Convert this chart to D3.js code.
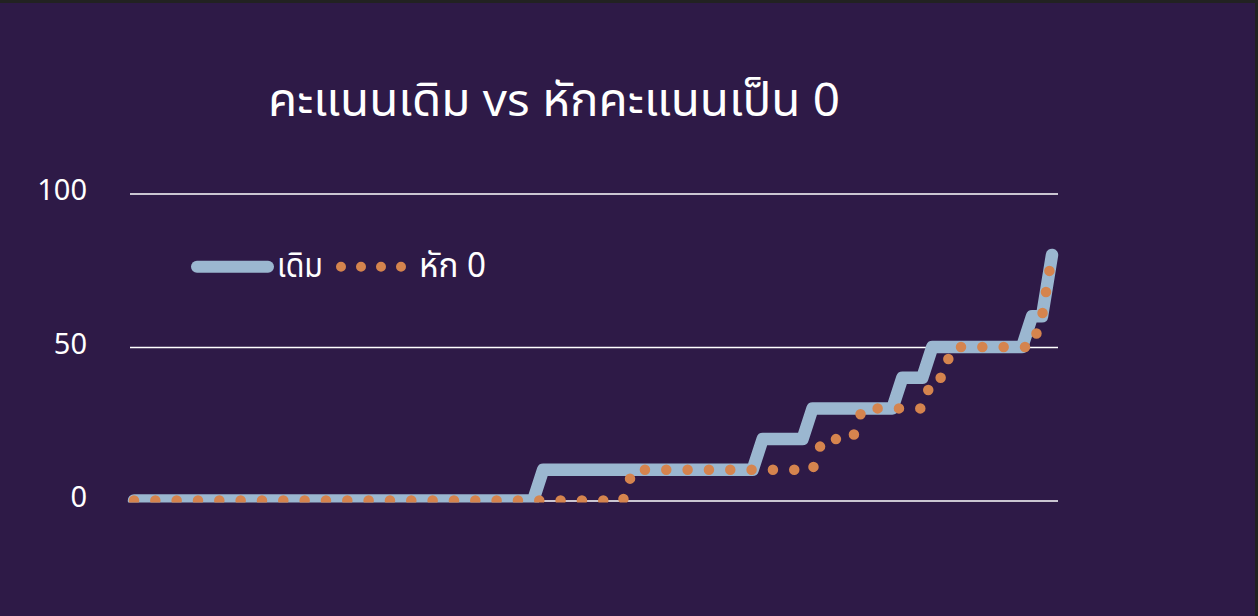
<!DOCTYPE html>
<html>
<head>
<meta charset="utf-8">
<script src="https://cdn.jsdelivr.net/npm/d3@7"></script>
<style>
  html, body { margin: 0; padding: 0; background: #222222; }
  svg { display: block; }
  text { font-family: "Noto Sans Thai", "Leelawadee UI", "Tahoma", "Noto Sans", "DejaVu Sans", sans-serif; fill: #ffffff; }
</style>
</head>
<body>
<svg id="chart" width="1258" height="616"></svg>
<script>
// ---- data ----
const title = "คะแนนเดิม vs หักคะแนนเป็น 0";
const seriesNames = ["เดิม", "หัก 0"];
const original = [
  0,0,0,0,0,0,0,0,0,0,
  0,0,0,0,0,0,0,0,0,0,
  0,0,0,0,0,0,0,0,0,0,
  0,0,0,0,0,0,0,0,0,0,
  0,10,10,10,10,10,10,10,10,10,
  10,10,10,10,10,10,10,10,10,10,
  10,10,10,20,20,20,20,20,30,30,
  30,30,30,30,30,30,30,40,40,40,
  50,50,50,50,50,50,50,50,50,50,
  60,60,80
];
const deducted = [
  0,0,0,0,0,0,0,0,0,0,
  0,0,0,0,0,0,0,0,0,0,
  0,0,0,0,0,0,0,0,0,0,
  0,0,0,0,0,0,0,0,0,0,
  0,0,0,0,0,0,0,0,0,0,
  10,10,10,10,10,10,10,10,10,10,
  10,10,10,10,10,10,10,10,10,20,
  20,20,20,30,30,30,30,30,30,30,
  40,40,50,50,50,50,50,50,50,50,
  50,60,80
];
const categories = original.map((d, i) => i + 1);
const yTicks = [0, 50, 100];

// ---- layout ----
const svg = d3.select("#chart");
const W = 1258, H = 616;
const bg = "#2e1a47";
const blue = "#9bb7d0";
const orange = "#d5844e";

svg.append("rect").attr("x", 0).attr("y", 3).attr("width", 1255).attr("height", H - 3).attr("fill", bg);

const x = d3.scalePoint().domain(categories).range([134, 1052]);
const y = d3.scaleLinear().domain([0, 100]).range([500.5, 193.5]);

// gridlines + tick labels via axis
const axis = d3.axisLeft(y).tickValues(yTicks).tickSize(-(1058 - 130)).tickPadding(43).tickFormat(d3.format("d"));
const gAxis = svg.append("g").attr("transform", "translate(130,0)").call(axis);
gAxis.select(".domain").remove();
gAxis.selectAll(".tick line").attr("stroke", "#ffffff").attr("stroke-width", 1.6);
gAxis.selectAll(".tick text")
  .attr("fill", "#ffffff")
  .attr("font-size", 29)
  .attr("dy", "0.32em")
  .attr("y", -3)
  .style("font-family", "'Noto Sans Thai', 'Leelawadee UI', Tahoma, 'Noto Sans', sans-serif");

// clip
svg.append("clipPath").attr("id", "plotclip")
  .append("rect").attr("x", 0).attr("y", 0).attr("width", W).attr("height", 502.5);

const line = d3.line().x((d, i) => x(categories[i])).y(d => y(d));

const plot = svg.append("g").attr("clip-path", "url(#plotclip)");
plot.append("path").datum(original)
  .attr("d", line)
  .attr("fill", "none")
  .attr("stroke", blue)
  .attr("stroke-width", 12.5)
  .attr("stroke-linejoin", "round")
  .attr("stroke-linecap", "round");

plot.append("path").datum(deducted)
  .attr("d", line)
  .attr("fill", "none")
  .attr("stroke", orange)
  .attr("stroke-width", 10.5)
  .attr("stroke-dasharray", "0 21.33")
  .attr("stroke-linejoin", "round")
  .attr("stroke-linecap", "round");

// title
svg.append("text")
  .attr("x", 268).attr("y", 116)
  .attr("font-size", 46)
  .attr("textLength", 572)
  .attr("lengthAdjust", "spacingAndGlyphs")
  .text(title);

// legend
const lg = svg.append("g");
lg.append("line").attr("x1", 197).attr("x2", 268).attr("y1", 266.7).attr("y2", 266.7)
  .attr("stroke", blue).attr("stroke-width", 12).attr("stroke-linecap", "round");
lg.append("text").attr("x", 277).attr("y", 276.5).attr("font-size", 34)
  .attr("textLength", 46).attr("lengthAdjust", "spacingAndGlyphs").text(seriesNames[0]);
lg.append("line").attr("x1", 341).attr("x2", 402).attr("y1", 266.7).attr("y2", 266.7)
  .attr("stroke", orange).attr("stroke-width", 10).attr("stroke-dasharray", "0 20")
  .attr("stroke-linecap", "round");
lg.append("text").attr("x", 419).attr("y", 276.5).attr("font-size", 34)
  .attr("textLength", 67).attr("lengthAdjust", "spacingAndGlyphs").text(seriesNames[1]);
</script>
</body>
</html>
